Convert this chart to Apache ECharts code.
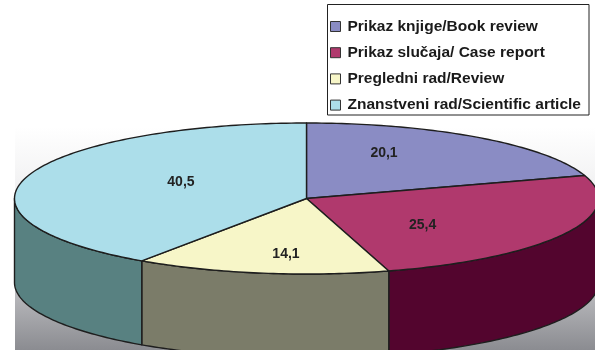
<!DOCTYPE html>
<html>
<head>
<meta charset="utf-8">
<script src="https://cdn.jsdelivr.net/npm/echarts@6/dist/echarts.min.js"></script>
<style>
  html, body { margin: 0; padding: 0; background: #ffffff; }
  #chart { width: 595px; height: 350px; }
</style>
</head>
<body>
<div id="chart"></div>
<script>
// Article types (share of published papers, %)
const categories = [
  'Prikaz knjige/Book review',
  'Prikaz slučaja/ Case report',
  'Pregledni rad/Review',
  'Znanstveni rad/Scientific article'
];
const shares = [20.1, 25.4, 14.1, 40.5];

// Top-face and side-wall colours for each slice
const topColors = ['#8a8cc4', '#b0396d', '#f7f6c8', '#acdeea'];
const sideColors = ['#5c5e8c', '#53052e', '#7b7c69', '#588181'];

// Ellipse geometry of the 3D pie
const CX = 306.5, CY = 198.5, RX = 292, RY = 75.5, DEPTH = 84;
const OUTLINE = '#1e1e1e';

const total = shares.reduce((a, b) => a + b, 0);

function pt(deg, dy) {
  const r = deg * Math.PI / 180;
  return [CX + RX * Math.cos(r), CY - RY * Math.sin(r) + (dy || 0)];
}

function arc(a1, a2, dy) {
  // points from angle a1 down to a2 (clockwise on screen)
  const pts = [];
  const n = Math.max(2, Math.ceil(Math.abs(a1 - a2)));
  for (let i = 0; i <= n; i++) pts.push(pt(a1 + (a2 - a1) * i / n, dy));
  return pts;
}

function fmt(v) { return v.toFixed(1).replace('.', ','); }

function makeRender(idx) {
  return function (params, api) {
    const v = api.value(0);
    let before = 0;
    for (let i = 0; i < idx; i++) before += shares[i];
    const start = 90 - 360 * before / total;
    const end = start - 360 * v / total;
    const children = [];

    // visible side wall: front half of the rim, angles in [-180, 0]
    const s1 = Math.min(start, 0), s2 = Math.max(end, -180);
    if (s1 > s2) {
      const top = arc(s1, s2, 0);
      const bottom = arc(s2, s1, DEPTH);
      children.push({
        type: 'polygon',
        shape: { points: top.concat(bottom) },
        style: { fill: sideColors[idx], stroke: OUTLINE, lineWidth: 1.4, lineJoin: 'round' }
      });
    }

    // top face
    children.push({
      type: 'polygon',
      shape: { points: [[CX, CY]].concat(arc(start, end, 0)) },
      style: { fill: topColors[idx], stroke: OUTLINE, lineWidth: 1.4, lineJoin: 'round' }
    });

    // value label at the middle angle of the slice
    const mid = (start + end) / 2 * Math.PI / 180;
    children.push({
      type: 'text',
      style: {
        text: fmt(v),
        x: CX + RX * 0.45 * Math.cos(mid),
        y: CY - RY * 0.74 * Math.sin(mid),
        align: 'center',
        verticalAlign: 'middle',
        fontSize: 14,
        fontWeight: 'bold',
        fontFamily: '"Liberation Sans", Arial, sans-serif',
        fill: '#222222'
      }
    });
    return { type: 'group', children };
  };
}

const series = categories.map((name, i) => ({
  type: 'custom',
  name: name,
  coordinateSystem: 'none',
  silent: true,
  itemStyle: { color: topColors[i] },
  data: [[shares[i]]],
  renderItem: makeRender(i)
}));

const chart = echarts.init(document.getElementById('chart'), null, { renderer: 'canvas' });
chart.setOption({
  animation: false,
  color: topColors,
  graphic: [
    {
      type: 'rect',
      z: 0,
      shape: { x: 15, y: 127, width: 580, height: 223 },
      style: {
        fill: new echarts.graphic.LinearGradient(0, 0, 0, 1, [
          { offset: 0, color: '#ffffff' },
          { offset: 0.3, color: '#f0f0f1' },
          { offset: 0.65, color: '#c9c9cc' },
          { offset: 1, color: '#8b8c91' }
        ])
      }
    },
    {
      type: 'rect',
      z: 0,
      shape: { x: 327.5, y: 4.5, width: 261.5, height: 110.5 },
      style: { fill: '#ffffff', stroke: '#222222', lineWidth: 1 }
    }
  ],
  legend: {
    orient: 'vertical',
    left: 330,
    top: 18.5,
    padding: 0,
    itemWidth: 10,
    itemHeight: 10,
    itemGap: 10.2,
    icon: 'rect',
    selectedMode: false,
    itemStyle: { borderColor: '#333333', borderWidth: 1 },
    textStyle: {
      fontSize: 15.5,
      fontWeight: 'bold',
      lineHeight: 15.5,
      fontFamily: '"Liberation Sans", Arial, sans-serif',
      color: '#1a1a1a',
      padding: [0, 0, 0, 2]
    },
    data: categories
  },
  series: series
});
</script>
</body>
</html>
